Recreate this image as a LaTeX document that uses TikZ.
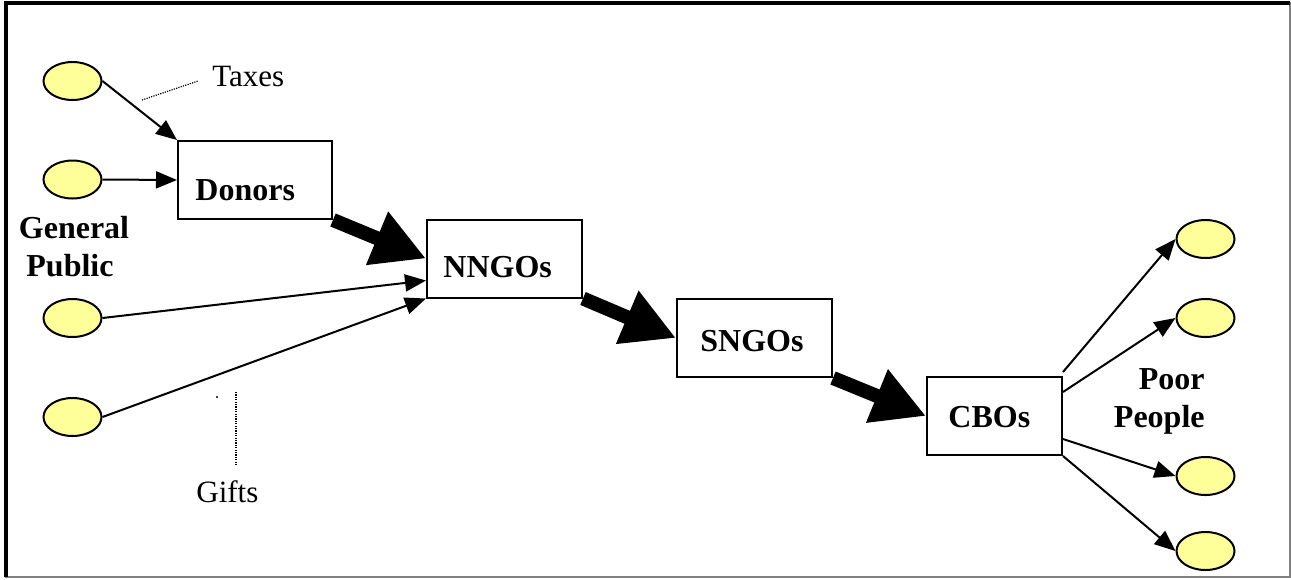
\documentclass[tikz,border=0pt]{standalone}
\usepackage{fontspec}
\setmainfont{Liberation Serif}
\usetikzlibrary{arrows.meta,shapes.geometric}
\definecolor{pale}{RGB}{255,255,153}
\begin{document}
\begin{tikzpicture}[x=0.5pt,y=-0.5pt,
  oval/.style={ellipse,draw,fill=pale,line width=1pt,minimum width=29pt,minimum height=19pt,inner sep=0pt},
  org/.style={rectangle,draw,line width=1pt,inner sep=0pt,minimum height=39pt},
  lbl/.style={font=\fontsize{16}{19}\selectfont\bfseries,inner sep=0pt},
  note/.style={font=\fontsize{15.5}{18}\selectfont,inner sep=0pt},
  thinarrow/.style={line width=1pt,-{Triangle[length=10.5pt,width=8.5pt]}},
  fatarrow/.style={line width=7pt,-{Triangle[length=26.5pt,width=27pt]}},
  dotline/.style={line width=0.6pt,dash pattern=on 0.6pt off 0.6pt}]
\useasboundingbox (0,0) rectangle (1291,579);
% frame
\draw[gray,line width=0.8pt] (5.5,3) rectangle (1290,577);
\draw[line width=2pt] (5.5,577) -- (5.5,3) -- (1290,3);
% left ovals
\node[oval] (l1) at (72.5,81) {};
\node[oval] (l2) at (72.5,179.5) {};
\node[oval] (l3) at (72.5,318) {};
\node[oval] (l4) at (72.5,417) {};
% right ovals
\node[oval] (r1) at (1205.5,239) {};
\node[oval] (r2) at (1205.5,318) {};
\node[oval] (r3) at (1205.5,476) {};
\node[oval] (r4) at (1205.5,551) {};
% boxes
\node[org,minimum width=77pt] (donors) at (255,180) {};
\node[org,minimum width=77.5pt] (nngos) at (504.5,258.5) {};
\node[org,minimum width=77.5pt] (sngos) at (754.5,338) {};
\node[org,minimum width=67.5pt] (cbos) at (994.5,416) {};
% box labels
\node[lbl,anchor=base west] (donorsT) at (195,200) {Donors};
\node[lbl,anchor=base west] (nngosT) at (443,277) {NNGOs};
\node[lbl,anchor=base west] (sngosT) at (700,351) {SNGOs};
\node[lbl,anchor=base west] (cbosT) at (948,427) {CBOs};
% group labels
\node[lbl,anchor=base] (gen1) at (74,238) {General};
\node[lbl,anchor=base] (gen2) at (70,276) {Public};
\node[lbl,anchor=base east] (poor1) at (1205,389) {Poor};
\node[lbl,anchor=base east] (poor2) at (1205,427) {People};
\node[note,anchor=base west] (taxes) at (212,86) {Taxes};
\node[note,anchor=base west] (gifts) at (196,502) {Gifts};
% dotted pointers
\coordinate (tx1) at (142,100);
\coordinate (tx2) at (198,81);
\draw[dotline] (tx1) -- (tx2);
\coordinate (gf1) at (236,392);
\coordinate (gf2) at (236,466);
\draw[dotline] (gf1) -- (gf2);
\fill (217,397) circle (0.6pt);
% thin arrows in
\draw[thinarrow] (l1.east) -- (donors.north west);
\draw[thinarrow] (l2.east) -- (donors.west);
\draw[thinarrow] (l3.east) -- ([yshift=9pt]nngos.south west);
\draw[thinarrow] (l4.east) -- (nngos.south west);
% fat arrows
\draw[fatarrow] (donors.south east) -- (nngos.west);
\draw[fatarrow] (nngos.south east) -- (sngos.west);
\draw[fatarrow] (sngos.south east) -- (cbos.west);
% thin arrows out
\draw[thinarrow] ([yshift=2pt]cbos.north east) -- (r1.west);
\draw[thinarrow] ([yshift=-8pt]cbos.north east) -- (r2.west);
\draw[thinarrow] ([yshift=8.5pt]cbos.south east) -- (r3.west);
\draw[thinarrow] (cbos.south east) -- (r4.west);
\end{tikzpicture}
\end{document}
